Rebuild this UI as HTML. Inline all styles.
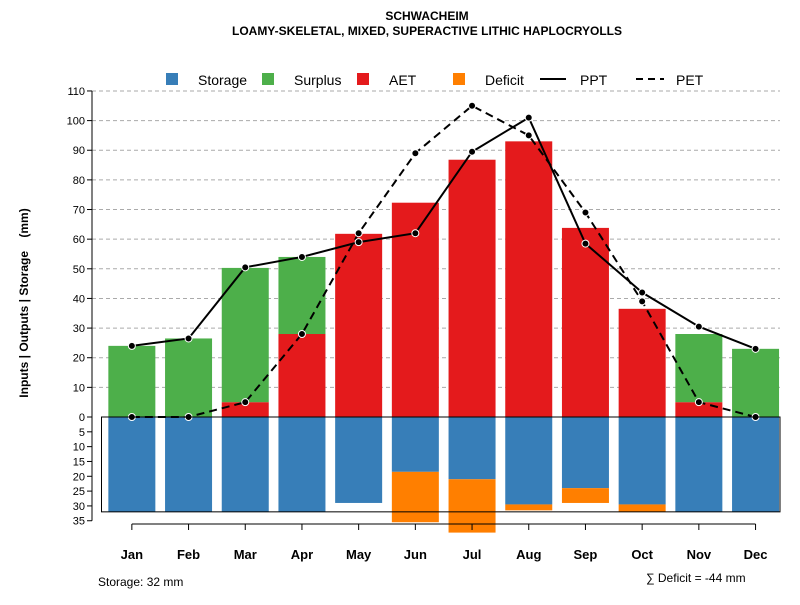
<!DOCTYPE html>
<html><head><meta charset="utf-8"><style>
body{margin:0;background:#fff;font-family:"Liberation Sans",sans-serif}
svg text{font-family:"Liberation Sans",sans-serif}
</style></head><body>
<svg id="c" width="800" height="600" xmlns="http://www.w3.org/2000/svg">
<text x="427" y="20" font-size="12" font-weight="bold" text-anchor="middle">SCHWACHEIM</text>
<text x="427" y="35" font-size="12" font-weight="bold" text-anchor="middle">LOAMY-SKELETAL, MIXED, SUPERACTIVE LITHIC HAPLOCRYOLLS</text>
<g id="grid"></g><g id="bars"></g><g id="lines"></g><g id="axes"></g>
<g font-size="14">
<rect x="166" y="73" width="12" height="12" fill="#377EB8"/><text x="198" y="85">Storage</text>
<rect x="262" y="73" width="12" height="12" fill="#4DAF4A"/><text x="294" y="85">Surplus</text>
<rect x="357" y="73" width="12" height="12" fill="#E41A1C"/><text x="389" y="85">AET</text>
<rect x="453" y="73" width="12" height="12" fill="#FF7F00"/><text x="485" y="85">Deficit</text>
<line x1="540" y1="79" x2="566" y2="79" stroke="#000" stroke-width="2"/><text x="580" y="85">PPT</text>
<line x1="636" y1="79" x2="664" y2="79" stroke="#000" stroke-width="2" stroke-dasharray="7,5"/><text x="676" y="85">PET</text>
</g>
<text transform="translate(28,303) rotate(-90)" font-size="12" font-weight="bold" text-anchor="middle" xml:space="preserve">Inputs | Outputs | Storage    (mm)</text>
<text x="98" y="586" font-size="12">Storage: 32 mm</text>
<text x="646" y="582" font-size="12">∑ Deficit = -44 mm</text>
</svg>
<script>
const months=["Jan","Feb","Mar","Apr","May","Jun","Jul","Aug","Sep","Oct","Nov","Dec"];
const surplus=[24,26.5,45.3,26,0,0,0,0,0,0,23,23];
const aet=[0,0,5,28,61.8,72.3,86.8,93,63.8,36.5,5,0];
const storage=[32,32,32,32,29,18.5,21,29.5,24,29.5,32,32];
const deficit=[0,0,0,0,0,17,18,2,5,2.5,0,0];
const ppt=[24,26.5,50.5,54,59,62,89.5,101,58.5,42,30.5,23];
const pet=[0,0,5,28,62,89,105,95,69,39,5,0];
const upTicks=[0,10,20,30,40,50,60,70,80,90,100,110];
const downTicks=[5,10,15,20,25,30,35];
const NS="http://www.w3.org/2000/svg";
const AX=92,X0=103.5,X1=780,Y0=417,K=2.964,step=56.7,bw=47;
const xc=i=>X0+step*(i+0.5);
const yU=v=>Y0-v*K, yD=v=>Y0+v*K;
function mk(t,a,p){const e=document.createElementNS(NS,t);for(const k in a)e.setAttribute(k,a[k]);p.appendChild(e);return e;}
const G=document.getElementById('grid'),B=document.getElementById('bars'),L=document.getElementById('lines'),A=document.getElementById('axes');
upTicks.forEach(v=>{if(v>0){const l=mk('line',{x1:AX,x2:X1,y1:yU(v),y2:yU(v),stroke:'#aaa','stroke-dasharray':'4,3'},G);

}
const t=mk('text',{x:AX-7,y:yU(v)+4,'font-size':11,'text-anchor':'end'},A);t.textContent=v;


mk('line',{x1:AX-5,x2:AX,y1:yU(v),y2:yU(v),stroke:'#000'},A);});
downTicks.forEach(v=>{const t=mk('text',{x:AX-7,y:yD(v)+4,'font-size':11,'text-anchor':'end'},A);t.textContent=v;


mk('line',{x1:AX-5,x2:AX,y1:yD(v),y2:yD(v),stroke:'#000'},A);});
months.forEach((m,i)=>{const x=xc(i)-bw/2;
let r=mk('rect',{x:x,y:yU(aet[i]),width:bw,height:aet[i]*K,fill:'#E41A1C'},B);


r=mk('rect',{x:x,y:yU(aet[i]+surplus[i]),width:bw,height:surplus[i]*K,fill:'#4DAF4A'},B);


r=mk('rect',{x:x,y:Y0,width:bw,height:storage[i]*K,fill:'#377EB8'},B);


r=mk('rect',{x:x,y:yD(storage[i]),width:bw,height:deficit[i]*K,fill:'#FF7F00'},B);


const t=mk('text',{x:xc(i),y:559,'font-size':13,'font-weight':'bold','text-anchor':'middle'},A);t.textContent=m;


mk('line',{x1:xc(i),x2:xc(i),y1:524,y2:530,stroke:'#000'},A);});
const box=mk('rect',{x:X0-2,y:Y0,width:X1-X0+2,height:32*K,fill:'none',stroke:'#000'},A);


mk('line',{x1:AX,x2:AX,y1:yU(110),y2:yD(35),stroke:'#000'},A);
mk('line',{x1:xc(0),x2:xc(11),y1:524,y2:524,stroke:'#000'},A);
function series(arr,name,dash){const p=mk('polyline',{points:arr.map((v,i)=>xc(i)+','+yU(v)).join(' '),fill:'none',stroke:'#000','stroke-width':2,'stroke-dasharray':dash},L);


arr.forEach((v,i)=>{const c=mk('circle',{cx:xc(i),cy:yU(v),r:3.5,fill:'#000',stroke:'#fff','stroke-width':1},L);

});}
series(pet,'pet','8,5');series(ppt,'ppt','none');
</script>
</body></html>
